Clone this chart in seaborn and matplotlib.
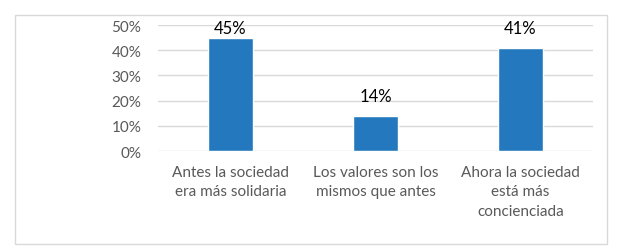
import matplotlib
matplotlib.use("Agg")
import matplotlib.pyplot as plt
import seaborn as sns
import pandas as pd
from matplotlib.patches import Rectangle
from matplotlib.ticker import PercentFormatter

categories = ["Antes la sociedad\nera más solidaria",
              "Los valores son los\nmismos que antes",
              "Ahora la sociedad\nestá más\nconcienciada"]
values = [0.45, 0.14, 0.41]
labels = ["45%", "14%", "41%"]

df = pd.DataFrame({"cat": categories, "val": values})

sns.set_style("white")
plt.rcParams['font.family'] = ['Lato', 'DejaVu Sans']

W, H = 621, 251
fig = plt.figure(figsize=(W / 100, H / 100), dpi=100)
ax = fig.add_axes([158 / W, 99 / H, 435 / W, 126 / H])

sns.barplot(data=df, x="cat", y="val", color="#2479BE", width=0.31,
            saturation=1, ax=ax, zorder=3)

ax.set_ylim(0, 0.5)
ax.set_yticks([0, 0.1, 0.2, 0.3, 0.4, 0.5])
ax.yaxis.set_major_formatter(PercentFormatter(1.0, decimals=0))
ax.grid(axis="y", color="#D9D9D9", linewidth=1, zorder=0)
ax.set_axisbelow(True)
for s in ax.spines.values():
    s.set_visible(False)
ax.tick_params(axis="y", length=0, pad=12, labelsize=11, labelcolor="#595959")
ax.tick_params(axis="x", length=0, pad=10, labelsize=11, labelcolor="#595959")
for t in ax.get_xticklabels():
    t.set_linespacing(1.5)
ax.set_xlabel("")
ax.set_ylabel("")

# data labels above bars (Excel pushes the tallest one down inside the plot)
for i, (v, lab) in enumerate(zip(values, labels)):
    y = min(v + 0.047, 0.456)
    ax.text(i, y, lab, ha="center", va="bottom", fontsize=12, color="black")

# light chart border
fig.patches.append(Rectangle((15 / W, 6 / H), 592 / W, 229 / H,
                             transform=fig.transFigure, fill=False,
                             edgecolor="#D9D9D9", linewidth=1))

fig.savefig("out.png", dpi=100)
